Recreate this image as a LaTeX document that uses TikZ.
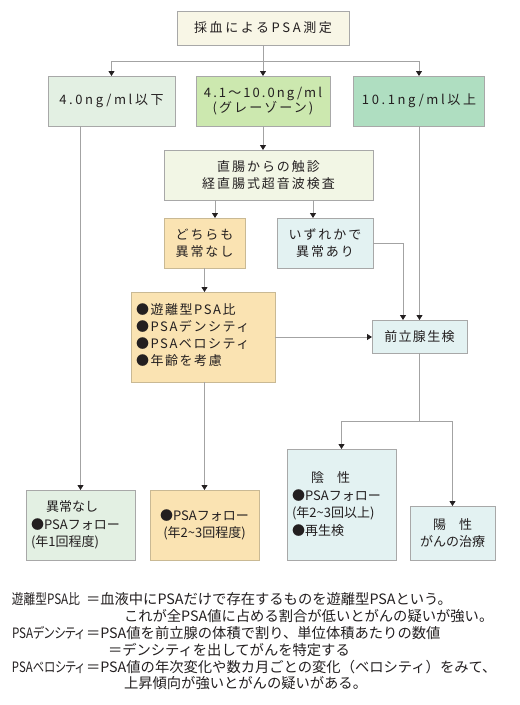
\documentclass[tikz,border=0pt]{standalone}
\usepackage{fontspec}
\usepackage{graphicx}
\setmainfont{Noto Sans CJK JP}
\usetikzlibrary{arrows.meta}
\definecolor{cream}{HTML}{F8F6E6}
\definecolor{greenA}{HTML}{E3F0E3}
\definecolor{greenB}{HTML}{CCE8AF}
\definecolor{greenC}{HTML}{AFDEC1}
\definecolor{exambg}{HTML}{F2F6E5}
\definecolor{orangebg}{HTML}{FAE3B2}
\definecolor{bluebg}{HTML}{E3F2F2}
\definecolor{bordergray}{HTML}{A8A8A8}
\definecolor{orangeborder}{HTML}{C9B994}
\definecolor{linegray}{HTML}{A3A3A3}
\definecolor{txtcol}{HTML}{231F20}
\newcommand\fitlabel[2]{\resizebox{#1}{\height}{\addfontfeatures{RawFeature=+palt}#2}}
\tikzset{
  box/.style={draw=bordergray, line width=0.8pt, inner sep=0pt, outer sep=0pt, text=txtcol},
  ln/.style={draw=linegray, line width=0.8pt},
  arr/.style={ln, -{Triangle[length=5pt,width=6pt,color=txtcol]}},
  fbig/.style={font=\fontsize{13}{15.5}\selectfont\addfontfeatures{LetterSpace=20}},
  fgrey/.style={font=\fontsize{13}{15.5}\selectfont\addfontfeatures{LetterSpace=16}},
  fmid/.style={font=\fontsize{13}{16.5}\selectfont\addfontfeatures{LetterSpace=15}},
  fbul/.style={font=\fontsize{13}{17.3}\selectfont\addfontfeatures{LetterSpace=12}},
  fsmall/.style={font=\fontsize{13}{17.5}\selectfont},
  tnode/.style={inner sep=0pt, outer sep=0pt, text=txtcol},
  note/.style={tnode, anchor=west, font=\fontsize{14.3}{14}\selectfont, text height=0.88em, text depth=0.12em},
}
\begin{document}
\begin{tikzpicture}[x=1pt,y=-1pt]
\useasboundingbox (0,0) rectangle (520,705);
\fill[white] (0,0) rectangle (520,705);

% top row
\node[box, fill=cream, minimum width=172pt, minimum height=34pt, fbig] (top) at (263,28) {採血によるPSA測定};
\node[box, fill=greenA, minimum width=127pt, minimum height=50pt, fbig] (b40) at (111.5,101) {4.0ng/ml以下};
\node[box, fill=greenB, minimum width=134pt, minimum height=50pt, fgrey, align=center] (bmid) at (263,101) {4.1〜10.0ng/ml\\(グレーゾーン)};
\node[box, fill=greenC, minimum width=131pt, minimum height=50pt, fbig] (b101) at (419,101) {10.1ng/ml以上};

% exam
\node[box, fill=exambg, minimum width=209pt, minimum height=50pt, fmid, align=center] (exam) at (268.5,175) {直腸からの触診\\経直腸式超音波検査};
\node[box, draw=orangeborder, fill=orangebg, minimum width=81pt, minimum height=50pt, fmid, align=center] (dochira) at (204.5,243) {どちらも\\異常なし};
\node[box, fill=bluebg, minimum width=96pt, minimum height=50pt, fmid, align=center] (izure) at (325,243) {いずれかで\\異常あり};

% bullets
\node[box, draw=orangeborder, fill=orangebg, minimum width=144pt, minimum height=90pt] (bullets) at (203,337) {};
\node[tnode, fbul, anchor=west, align=left] (bultext) at (136,335) {●遊離型PSA比\\●PSAデンシティ\\●PSAベロシティ\\●年齢を考慮};

% biopsy
\node[box, fill=bluebg, minimum width=95pt, minimum height=33pt, font=\fontsize{13}{15}\selectfont\addfontfeatures{LetterSpace=10}] (biopsy) at (419.5,336.5) {前立腺生検};

% bottom row
\node[box, fill=greenA, minimum width=109pt, minimum height=70pt] (nashi) at (80.5,525) {};
\node[tnode, fsmall, anchor=west, align=left] (nashitext) at (31,525) {\hspace*{15pt}異常なし\\●PSAフォロー\\(年1回程度)};
\node[box, draw=orangeborder, fill=orangebg, minimum width=109pt, minimum height=70pt, font=\fontsize{13}{16.5}\selectfont, align=center] (follow) at (204.5,525) {●PSAフォロー\\(年2\textasciitilde3回程度)};
\node[box, fill=bluebg, minimum width=109pt, minimum height=111pt] (neg) at (341.5,504.5) {};
\node[tnode, anchor=west, align=left, font=\fontsize{13}{17.7}\selectfont] (negtext) at (292,504) {\hspace*{19pt}陰　性\\●PSAフォロー\\(年2\textasciitilde3回以上)\\●再生検};
\node[box, fill=bluebg, minimum width=85pt, minimum height=54pt, font=\fontsize{13}{17}\selectfont, align=center] (pos) at (452.5,533) {陽　性\\がんの治療};

% connectors
\coordinate (split1) at (263,61);
\draw[ln] (top.south) -- (split1);
\draw[arr] (split1) -| (b40.north);
\draw[arr] (split1) -- (bmid.north);
\draw[arr] (split1) -| (b101.north);
\draw[arr] (bmid.south) -- (bmid.south |- exam.north);
\coordinate (e2d) at (215,200);
\coordinate (e2i) at (313,200);
\draw[arr] (e2d) -- (e2d |- dochira.north);
\draw[arr] (e2i) -- (e2i |- izure.north);
\draw[arr] (dochira.south) -- (dochira.south |- bullets.north);
\draw[arr] (izure.east) -| ([xshift=-16.5pt]biopsy.north);
\draw[arr] (b101.south -| biopsy.north) -- (biopsy.north);
\draw[arr] (bullets.east) -- (bullets.east -| biopsy.west);
\draw[arr] (b40.south -| nashi.north) -- (nashi.north);
\draw[arr] (bullets.south -| follow.north) -- (follow.north);
\coordinate (bsplit) at (419.5,421);
\draw[ln] (biopsy.south) -- (bsplit);
\draw[arr] (bsplit) -| (neg.north);
\draw[arr] (bsplit) -| (pos.north);

% notes
\node[note] (n1a) at (12,601) {\fitlabel{68pt}{遊離型PSA比}};
\node[note] (n1b) at (86,601) {＝血液中にPSAだけで存在するものを遊離型PSAという。};
\node[note] (n2) at (124,617.8) {これが全PSA値に占める割合が低いとがんの疑いが強い。};
\node[note] (n3a) at (12,634.6) {\fitlabel{72pt}{PSAデンシティ}};
\node[note] (n3b) at (86,634.6) {＝PSA値を前立腺の体積で割り、単位体積あたりの数値};
\node[note] (n4) at (108,651.4) {＝デンシティを出してがんを特定する};
\node[note] (n5a) at (12,668.2) {\fitlabel{72pt}{PSAベロシティ}};
\node[note] (n5b) at (86,668.2) {＝PSA値の年次変化や数カ月ごとの変化（ベロシティ）をみて、};
\node[note] (n6) at (124,685) {上昇傾向が強いとがんの疑いがある。};
\end{tikzpicture}
\end{document}
